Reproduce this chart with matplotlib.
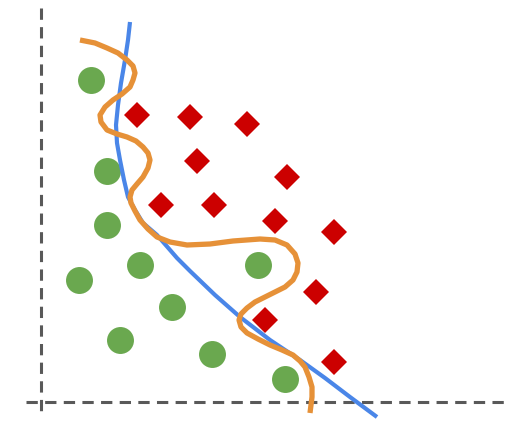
import matplotlib
matplotlib.use('Agg')
import matplotlib.pyplot as plt

# everything is in picture pixel units (y grows downward)
green_x = [91, 107, 107, 79, 140, 172, 120, 212, 258, 285]
green_y = [80, 171, 225, 280, 265, 307, 340, 354, 265, 379]

red_x = [137, 190, 247, 197, 287, 161, 214, 275, 334, 316, 265, 334]
red_y = [115, 117, 124, 161, 177, 205, 205, 221, 232, 292, 320, 362]

# smooth boundary
blue_x = [130, 128, 125, 121, 118, 116, 117, 120, 124, 128, 135, 143, 157, 177,
          190, 215, 240, 270, 300, 325, 350, 377]
blue_y = [22, 40, 60, 83, 105, 125, 143, 160, 180, 197, 210, 223, 235, 258,
          271, 295, 317, 340, 360, 378, 397, 417]

# overfitted boundary
orange_x = [80, 95, 107, 118, 127, 133, 135, 133, 130, 122, 113, 105, 100, 101,
            107, 117, 127, 136, 143, 148, 150, 148, 143, 137, 132, 130, 131,
            135, 140, 148, 157, 170, 187, 210, 233, 260, 275, 287, 295, 298,
            297, 293, 285, 267, 255, 247, 241, 239, 241, 247, 258, 270, 282,
            293, 300, 305, 309, 312, 312, 311, 310]
orange_y = [40, 43, 48, 53, 60, 66, 73, 80, 87, 94, 100, 107, 115, 122,
            130, 134, 137, 141, 147, 153, 160, 168, 177, 184, 190, 197, 203,
            211, 220, 229, 237, 242, 245, 244, 241, 239, 240, 245, 254, 263,
            272, 280, 287, 296, 302, 308, 314, 320, 327, 333, 339, 345, 350,
            355, 361, 367, 377, 387, 397, 405, 413]

# dashed axes
vaxis_x = [41, 41]
vaxis_y = [8, 417]
haxis_x = [26, 508]
haxis_y = [402, 402]

fig = plt.figure(figsize=(5.27, 4.37), dpi=100)
ax = fig.add_axes([0, 0, 1, 1])
ax.set_xlim(0, 527)
ax.set_ylim(437, 0)
ax.axis('off')

dash = (0, (3.7, 2.4))
ax.plot(vaxis_x, vaxis_y, color='#595959', lw=2.2, linestyle=dash)
ax.plot(haxis_x, haxis_y, color='#595959', lw=2.2, linestyle=dash)

ax.plot(green_x, green_y, 'o', color='#6aa84f', ms=19.4, mew=0, zorder=3)
ax.plot(red_x, red_y, 'D', color='#cc0000', ms=13.2, mew=0, zorder=3)

ax.plot(blue_x, blue_y, color='#4a86e8', lw=3.0, solid_capstyle='butt',
        solid_joinstyle='round', zorder=4)
ax.plot(orange_x, orange_y, color='#e69138', lw=3.8, solid_capstyle='butt',
        solid_joinstyle='round', zorder=5)

fig.savefig('out.png', dpi=100)
